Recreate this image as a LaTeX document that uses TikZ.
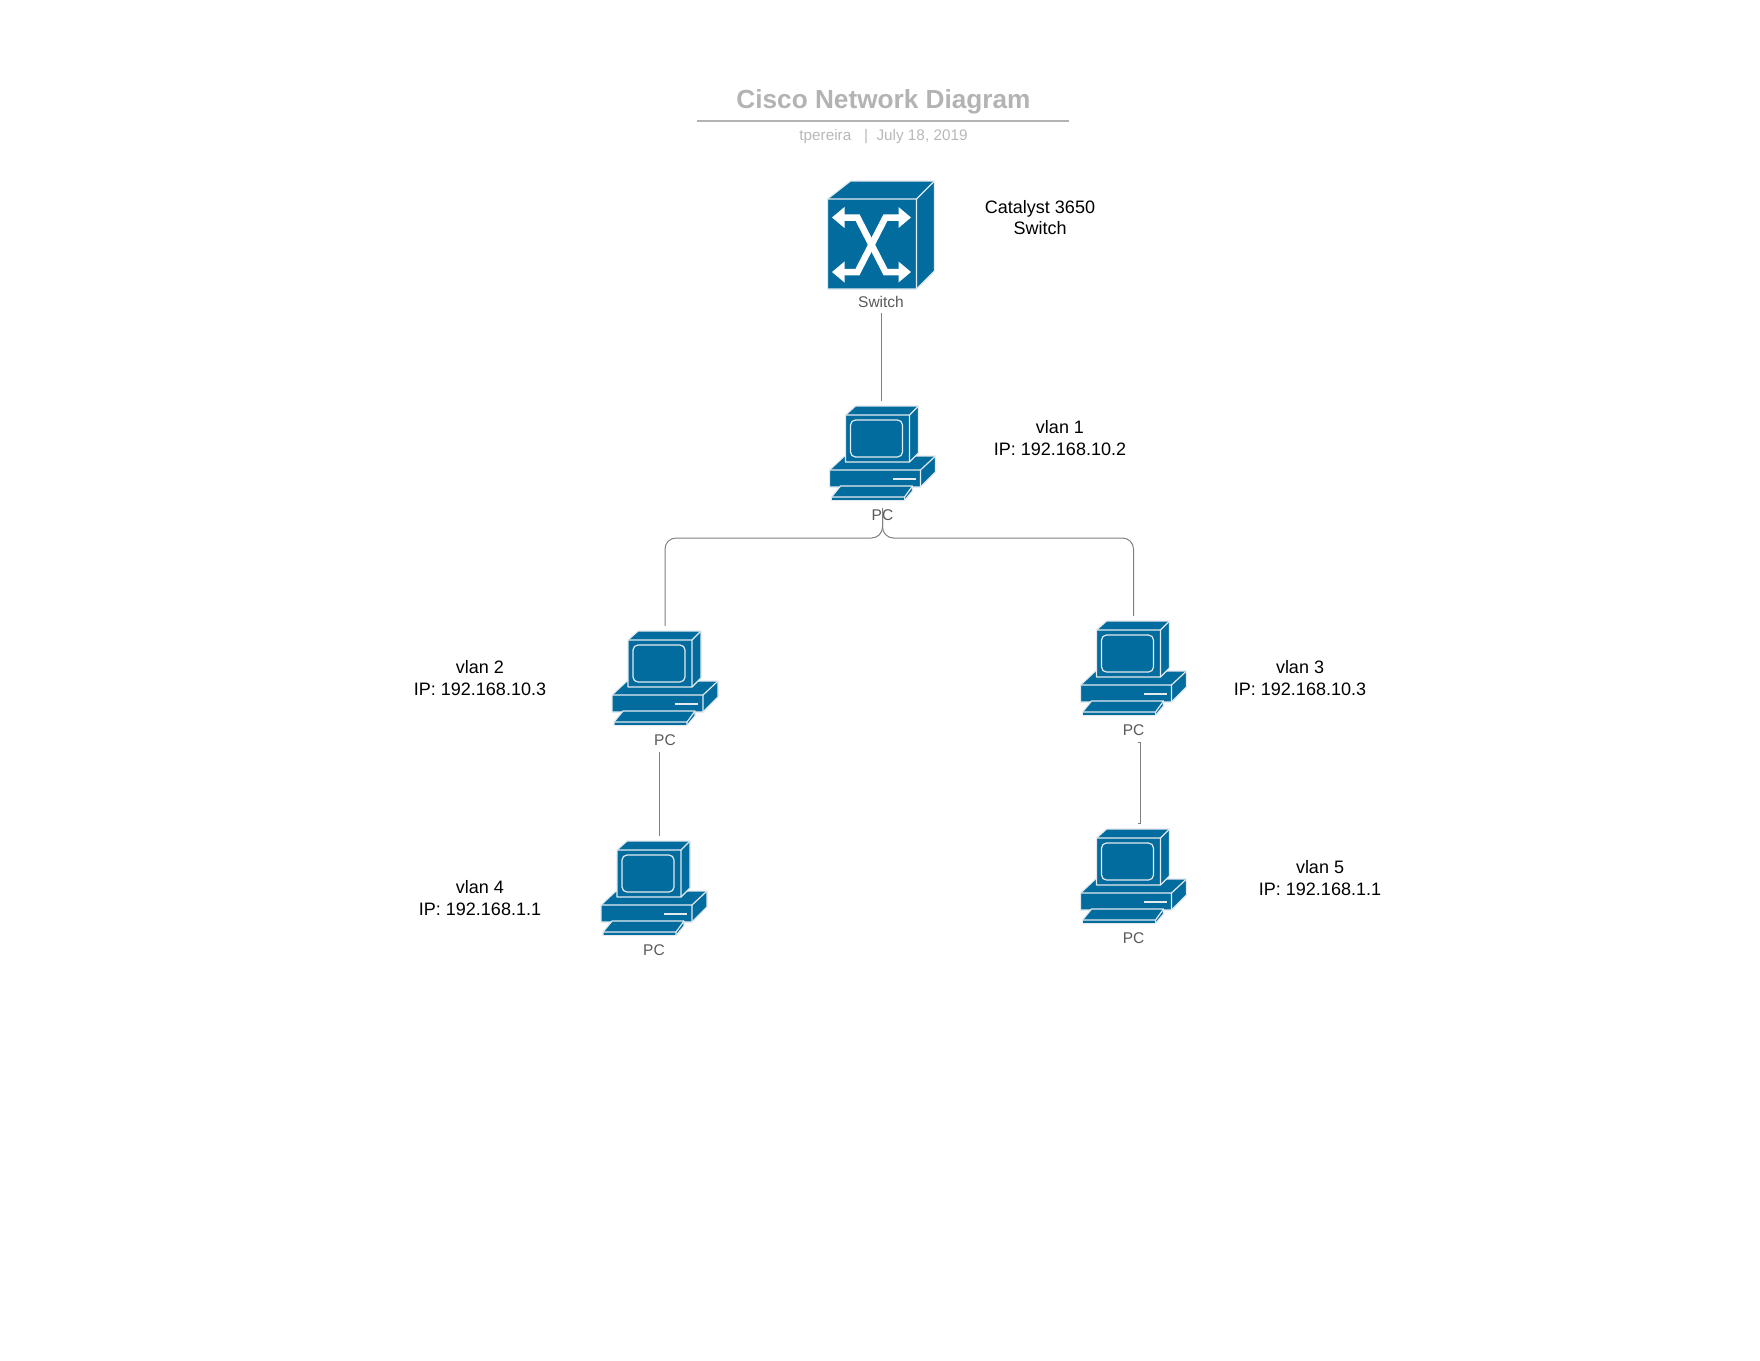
\documentclass[tikz,border=0pt]{standalone}
\usepackage{fontspec}
\setmainfont{Liberation Sans}
\definecolor{ciscoblue}{HTML}{036C9F}
\definecolor{iconedge}{HTML}{E4EAEE}
\definecolor{titlegray}{HTML}{B3B3B3}
\definecolor{subgray}{HTML}{B8B8B8}
\definecolor{labelgray}{HTML}{595959}
\definecolor{linkgray}{HTML}{7F7F7F}
\tikzset{
  iconpart/.style={fill=ciscoblue,draw=iconedge,line width=1.2pt,line join=round},
  iconmark/.style={draw=iconedge,line width=1.2pt},
  iconlabel/.style={inner sep=0pt,minimum height=14pt,text=labelgray,font=\fontsize{15.5}{15.5}\selectfont},
  iconbox/.style={inner sep=0pt,minimum width=106pt,minimum height=104pt},
  note/.style={inner sep=0pt,align=center,font=\fontsize{18}{21.3}\selectfont},
  link/.style={draw=linkgray,line width=1pt},
  pics/pcicon/.style={code={
    \node[iconbox] (box) at (0,0) {};
    % base unit
    \path[iconpart] (-53,17) -- (-38,3) -- (53,3) -- (53,19) -- (38,34) -- (-53,34) -- cycle;
    \path[iconmark] (-53,17) -- (38,17) -- (53,3) (38,17) -- (38,34);
    \path[draw=iconedge,line width=1.6pt] (10,26) -- (33,26);
    % monitor
    \path[iconpart] (-37,-38) -- (-27,-47) -- (36,-47) -- (36,0) -- (27,9) -- (-37,9) -- cycle;
    \path[iconmark] (-37,-38) -- (27,-38) -- (36,-47) (27,-38) -- (27,9);
    \path[iconmark,rounded corners=5pt] (-32,-33) rectangle (20,4);
    % keyboard
    \path[iconpart] (-42,33) -- (30,33) -- (30,38) -- (22,47.5) -- (-51,47.5) -- (-51,44) -- cycle;
    \path[iconmark] (-51,44) -- (22,44) -- (30,33) (22,44) -- (22,47.5);
    \fill[ciscoblue] (-50.4,44.7) rectangle (21.4,47);
    \node[iconlabel] (label) at (0,62.5) {PC};
  }},
  pics/switchicon/.style={code={
    \path[iconpart] (-53.5,-36) -- (-30.5,-54) -- (53.5,-54) -- (53.5,36) -- (35.5,54) -- (-53.5,54) -- cycle;
    \path[iconmark] (-53.5,-36) -- (35.5,-36) -- (53.5,-54) (35.5,-36) -- (35.5,54);
    % crossing arrows
    \draw[white,line width=6.5pt,line join=miter] (-37,-17.5) -- (-23.5,-17.5) -- (4.5,37) -- (18,37);
    \draw[white,line width=6.5pt,line join=miter] (18,-17.5) -- (4.5,-17.5) -- (-23.5,37) -- (-37,37);
    \fill[white] (-49,-17.5) -- (-36.5,-28) -- (-36.5,-7) -- cycle;
    \fill[white] (30,-17.5) -- (17.5,-28) -- (17.5,-7) -- cycle;
    \fill[white] (-49,37) -- (-36.5,26.5) -- (-36.5,47.5) -- cycle;
    \fill[white] (30,37) -- (17.5,26.5) -- (17.5,47.5) -- cycle;
    \node[iconlabel] (label) at (0,66.5) {Switch};
  }}
}
\begin{document}
\begin{tikzpicture}[x=1pt,y=-1pt]
  \useasboundingbox (0,0) rectangle (1760,1360);
  % title block
  \node[inner sep=0pt,text=titlegray,font=\fontsize{26.2}{26.2}\selectfont\bfseries] (title) at (883.5,102) {Cisco Network Diagram};
  \coordinate (ruleleft) at (697,121);
  \coordinate (ruleright) at (1069,121);
  \draw[titlegray,line width=1.3pt] (ruleleft) -- (ruleright);
  \node[inner sep=0pt,text=subgray,font=\fontsize{15.3}{15.3}\selectfont] (subtitle) at (883.5,136.5) {tpereira\ \ \ |\ \ July 18, 2019};
  % devices
  \pic (switch) at (881,235) {switchicon};
  \pic (pc1) at (882.5,453) {pcicon};
  \pic (pc2) at (665,678) {pcicon};
  \pic (pc3) at (1133.5,668) {pcicon};
  \pic (pc4) at (654,888) {pcicon};
  \pic (pc5) at (1133.5,876) {pcicon};
  % notes
  \node[note] (switchnote) at (1040,217.5) {Catalyst 3650\\Switch};
  \node[note] (pc1note) at (1060,438) {vlan 1\\IP: 192.168.10.2};
  \node[note] (pc2note) at (480,678) {vlan 2\\IP: 192.168.10.3};
  \node[note] (pc3note) at (1300,678) {vlan 3\\IP: 192.168.10.3};
  \node[note] (pc4note) at (480,898) {vlan 4\\IP: 192.168.1.1};
  \node[note] (pc5note) at (1320,878) {vlan 5\\IP: 192.168.1.1};
  % connectors
  \coordinate (bus) at (882.5,538);
  \draw[link,shorten <=4pt] (switchlabel.south) -- (switchlabel.south |- pc1box.north);
  \draw[link,rounded corners=11pt] (pc1label.north) -- (bus) -- (bus -| pc2box.north) -- (pc2box.north);
  \draw[link,rounded corners=11pt] (pc1label.north) -- (bus) -- (bus -| pc3box.north) -- (pc3box.north);
  \draw[link,shorten <=4pt] ([xshift=-6pt]pc2label.south) -- ([xshift=5pt]pc4box.north);
  \draw[link] ([xshift=4pt,yshift=-5pt]pc3label.south) -- ([xshift=6.5pt,yshift=-5pt]pc3label.south) -- ([xshift=6.5pt]pc5box.north) -- ([xshift=4pt]pc5box.north);
\end{tikzpicture}
\end{document}
